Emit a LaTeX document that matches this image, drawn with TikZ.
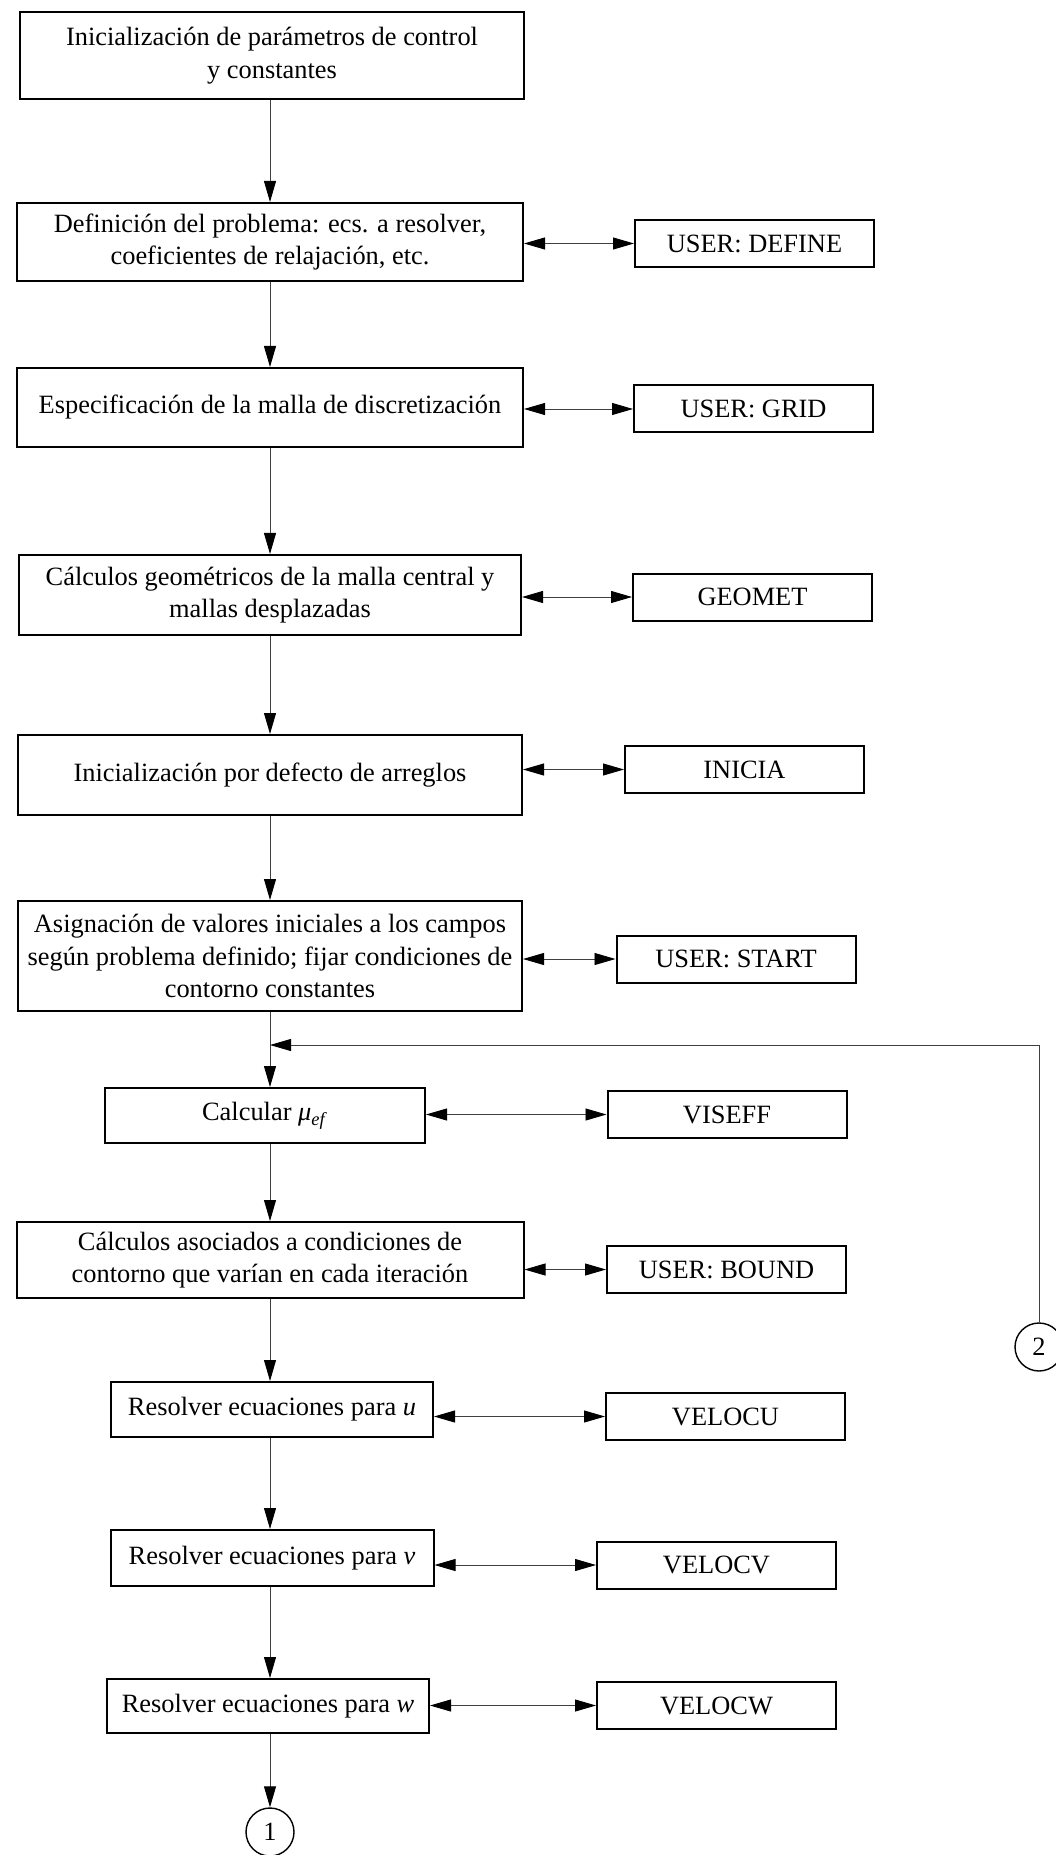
\documentclass[tikz,border=0pt]{standalone}
\usepackage{fontspec}
\setmainfont{Liberation Serif}
\usetikzlibrary{arrows.meta}
\begin{document}
\begin{tikzpicture}[x=0.5pt,y=-0.5pt,
		font=\fontsize{13.2}{16.3}\selectfont,
		>={Triangle[length=10.5pt,width=6pt,color=black]},
		paso/.style={draw, line width=1pt, align=center, inner sep=2pt},
		rutina/.style={draw, line width=1pt, minimum width=119.5pt, minimum height=23.5pt, inner sep=2pt},
		enlace/.style={draw=black!75, line width=0.45pt},
		conector/.style={draw, circle, line width=0.7pt, minimum size=24pt, inner sep=0pt}]
	\useasboundingbox (0,0) rectangle (1055,1855);
	% columna principal
	\node[paso, minimum width=252pt, minimum height=43.5pt] (ini) at (272,55.5)
		{Inicialización de parámetros de control\\y constantes};
	\node[paso, minimum width=253pt, minimum height=39pt] (def) at (270,242)
		{Definición del problema: ecs. a resolver,\\coeficientes de relajación, etc.};
	\node[paso, minimum width=253pt, minimum height=39.5pt] (malla) at (270,407.5)
		{Especificación de la malla de discretización};
	\node[paso, minimum width=251pt, minimum height=40pt] (geo) at (270,595)
		{Cálculos geométricos de la malla central y\\mallas desplazadas};
	\node[paso, minimum width=252pt, minimum height=40pt] (arr) at (270,775)
		{Inicialización por defecto de arreglos};
	\node[paso, minimum width=252pt, minimum height=55pt] (asig) at (270,956)
		{Asignación de valores iniciales a los campos\\según problema definido; fijar condiciones de\\contorno constantes};
	\node[paso, minimum width=160pt, minimum height=27.5pt] (mu) at (265,1115.5)
		{Calcular \textit{μ}\textsubscript{\textit{ef}}};
	\node[paso, minimum width=253.5pt, minimum height=38pt] (cont) at (270,1260)
		{Cálculos asociados a condiciones de\\contorno que varían en cada iteración};
	\node[paso, minimum width=161pt, minimum height=27.5pt] (resu) at (272,1409.5)
		{Resolver ecuaciones para \textit{u}};
	\node[paso, minimum width=161.5pt, minimum height=28pt] (resv) at (272,1558)
		{Resolver ecuaciones para \textit{v}};
	\node[paso, minimum width=161pt, minimum height=27pt] (resw) at (268,1706)
		{Resolver ecuaciones para \textit{w}};
	\node[conector] (c1) at (270,1832) {1};
	% subrutinas
	\node[rutina] (define) at (754.5,243.5) {USER: DEFINE};
	\node[rutina] (grid) at (753.5,409) {USER: GRID};
	\node[rutina] (geomet) at (752.5,597) {GEOMET};
	\node[rutina] (inicia) at (744.5,769.5) {INICIA};
	\node[rutina] (start) at (736,959) {USER: START};
	\node[rutina] (viseff) at (727,1114.5) {VISEFF};
	\node[rutina] (bound) at (726.5,1269.5) {USER: BOUND};
	\node[rutina] (velocu) at (725.5,1416.5) {VELOCU};
	\node[rutina] (velocv) at (716.5,1565) {VELOCV};
	\node[rutina] (velocw) at (716.5,1705.5) {VELOCW};
	\node[conector] (c2) at (1039,1347) {2};
	% flujo vertical
	\draw[enlace, ->] (ini.south -| 270,0) -- (def.north);
	\draw[enlace, ->] (def) -- (malla);
	\draw[enlace, ->] (malla) -- (geo);
	\draw[enlace, ->] (geo) -- (arr);
	\draw[enlace, ->] (arr) -- (asig);
	\draw[enlace, ->] (asig.south) -- (asig.south |- mu.north);
	\draw[enlace, ->] (mu.south -| asig.south) -- (cont.north);
	\draw[enlace, ->] (cont.south) -- (cont.south |- resu.north);
	\draw[enlace, ->] (resu.south -| cont.south) -- (cont.south |- resv.north);
	\draw[enlace, ->] (resv.south -| cont.south) -- (cont.south |- resw.north);
	\draw[enlace, ->] (resw.south -| cont.south) -- (c1);
	% llamadas a subrutinas
	\draw[enlace, <->] (define.west -| def.east) -- (define.west);
	\draw[enlace, <->] (grid.west -| malla.east) -- (grid.west);
	\draw[enlace, <->] (geomet.west -| geo.east) -- (geomet.west);
	\draw[enlace, <->] (inicia.west -| arr.east) -- (inicia.west);
	\draw[enlace, <->] (start.west -| asig.east) -- (start.west);
	\draw[enlace, <->] (viseff.west -| mu.east) -- (viseff.west);
	\draw[enlace, <->] (bound.west -| cont.east) -- (bound.west);
	\draw[enlace, <->] (velocu.west -| resu.east) -- (velocu.west);
	\draw[enlace, <->] (velocv.west -| resv.east) -- (velocv.west);
	\draw[enlace, <->] (velocw.west -| resw.east) -- (velocw.west);
	% retorno desde 2
	\coordinate (ret) at (270,1045);
	\draw[enlace, ->] (c2.north) |- (ret);
\end{tikzpicture}
\end{document}
